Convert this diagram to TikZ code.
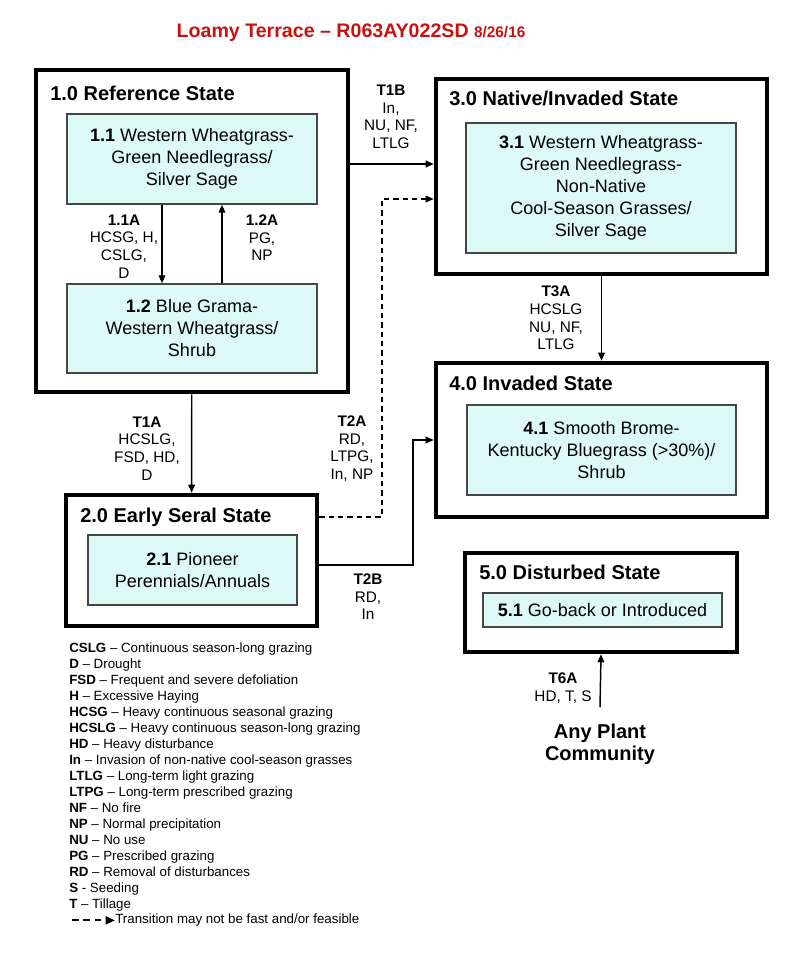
\documentclass[tikz,border=0pt]{standalone}
\usepackage{fontspec}
\setmainfont{Liberation Sans}
\usetikzlibrary{arrows.meta}
\definecolor{titlered}{RGB}{200,18,18}
\definecolor{paleaqua}{RGB}{222,250,247}
\definecolor{edgegray}{RGB}{70,70,70}

\begin{document}
\begin{tikzpicture}[x=0.75pt,y=-0.75pt,
	statebox/.style={draw,line width=3.4pt},
	commbox/.style={draw=edgegray,line width=1.1pt,fill=paleaqua,align=center,inner sep=0pt,font=\fontsize{13.5}{16.5}\selectfont},
	statetitle/.style={anchor=west,inner sep=0pt,font=\fontsize{15}{18}\selectfont\bfseries},
	trlabel/.style={align=center,inner sep=0pt,font=\fontsize{11.5}{13.2}\selectfont},
	keyline/.style={anchor=base west,inner sep=0pt,font=\fontsize{10}{12}\selectfont},
	arr/.style={line width=1.1pt,-{Triangle[length=6pt,width=5pt]}},
	dasharr/.style={arr,dash pattern=on 4pt off 3pt}]
	\useasboundingbox (0,0) rectangle (800,969);

	\node[text=titlered,font=\fontsize{14.7}{17}\selectfont\bfseries] (title) at (351,33)
		{Loamy Terrace – R063AY022SD {\fontsize{11.5}{14}\selectfont 8/26/16}};

	% states
	\node[statebox,minimum width=234pt,minimum height=241.5pt] (s1) at (192,231) {};
	\node[statebox,minimum width=248.25pt,minimum height=146.25pt] (s3) at (601.5,176.5) {};
	\node[statebox,minimum width=248.25pt,minimum height=115.5pt] (s4) at (601.5,440) {};
	\node[statebox,minimum width=188.25pt,minimum height=98.25pt] (s2) at (191.5,560.5) {};
	\node[statebox,minimum width=204pt,minimum height=74.25pt] (s5) at (601,602.5) {};

	\node[statetitle] (t1) at (50,93) {1.0 Reference State};
	\node[statetitle] (t3) at (449,98) {3.0 Native/Invaded State};
	\node[statetitle] (t4) at (449,383) {4.0 Invaded State};
	\node[statetitle] (t2) at (80,517) {2.0 Early Seral State};
	\node[statetitle] (t5) at (479,572) {5.0 Disturbed State};

	% plant communities
	\node[commbox,minimum width=187.5pt,minimum height=67.5pt] (c11) at (192,159)
		{\textbf{1.1} Western Wheatgrass-\\Green Needlegrass/\\Silver Sage};
	\node[commbox,minimum width=187.5pt,minimum height=66.75pt] (c12) at (192,328.5)
		{\textbf{1.2} Blue Grama-\\Western Wheatgrass/\\Shrub};
	\node[commbox,minimum width=202.5pt,minimum height=97.5pt] (c31) at (601,188)
		{\textbf{3.1} Western Wheatgrass-\\Green Needlegrass-\\Non-Native\\Cool-Season Grasses/\\Silver Sage};
	\node[commbox,minimum width=201.75pt,minimum height=67.5pt] (c41) at (601.5,450)
		{\textbf{4.1} Smooth Brome-\\Kentucky Bluegrass (>30\%)/\\Shrub};
	\node[commbox,minimum width=156.75pt,minimum height=52.5pt] (c21) at (192.5,570)
		{\textbf{2.1} Pioneer\\Perennials/Annuals};
	\node[commbox,minimum width=179.25pt,minimum height=25.5pt] (c51) at (602.5,610)
		{\textbf{5.1} Go-back or Introduced};

	% transition labels
	\node[trlabel] (l11a) at (124,246.5) {\textbf{1.1A}\\HCSG, H,\\CSLG,\\D};
	\node[trlabel] (l12a) at (262,238) {\textbf{1.2A}\\PG,\\NP};
	\node[trlabel] (lt1b) at (391,117) {\textbf{T1B}\\In,\\NU, NF,\\LTLG};
	\node[trlabel] (lt1a) at (147,448.5) {\textbf{T1A}\\HCSLG,\\FSD, HD,\\D};
	\node[trlabel] (lt2a) at (352,448.5) {\textbf{T2A}\\RD,\\LTPG,\\In, NP};
	\node[trlabel] (lt2b) at (368,597) {\textbf{T2B}\\RD,\\In};
	\node[trlabel] (lt3a) at (556,318) {\textbf{T3A}\\HCSLG\\NU, NF,\\LTLG};
	\node[trlabel] (lt6a) at (563,688) {\textbf{T6A}\\HD, T, S};
	\node[align=center,inner sep=0pt,font=\fontsize{15}{16.5}\selectfont\bfseries] (any) at (600,744) {Any Plant\\Community};

	% transitions
	\draw[arr] ([xshift=-22.5pt]c11.south) -- ([xshift=-22.5pt]c12.north);
	\draw[arr] ([xshift=22.5pt]c12.north) -- ([xshift=22.5pt]c11.south);
	\coordinate (k1b) at (392,164);
	\draw[arr] (s1.east |- k1b) -- (s3.west |- k1b);
	\draw[arr] (s1) -- (s2);
	\coordinate (k2a) at (382,517);
	\coordinate (k2atop) at (382,199);
	\draw[dasharr] (s2.east |- k2a) -- (k2a) -- (k2atop) -- (s3.west |- k2atop);
	\coordinate (k2b) at (413,565);
	\draw[arr] (s2.east |- k2b) -- (k2b) |- (s4.west);
	\draw[arr] (s3) -- (s4);
	\draw[arr] ([yshift=12pt]any.north) -- (s5.south);

	% key
	\foreach \ab/\txt [count=\i] in {CSLG/-- Continuous season-long grazing,D/-- Drought,
		FSD/-- Frequent and severe defoliation,H/-- Excessive Haying,
		HCSG/-- Heavy continuous seasonal grazing,HCSLG/-- Heavy continuous season-long grazing,
		HD/-- Heavy disturbance,In/-- Invasion of non-native cool-season grasses,
		LTLG/-- Long-term light grazing,LTPG/-- Long-term prescribed grazing,
		NF/-- No fire,NP/-- Normal precipitation,NU/-- No use,PG/-- Prescribed grazing,
		RD/-- Removal of disturbances,S/- Seeding,T/-- Tillage}
		\node[keyline] (key\i) at (69,{636.8+16*\i}) {\textbf{\ab} \txt};
	\coordinate (keytail) at (72,919);
	\node[keyline] (keytxt) at (115,923.8) {Transition may not be fast and/or feasible};
	\draw[line width=1.6pt,dash pattern=on 5pt off 3.5pt,-{Triangle[length=7pt,width=6pt]}]
		(keytail |- keytxt.west) -- (keytxt.west);
\end{tikzpicture}
\end{document}
